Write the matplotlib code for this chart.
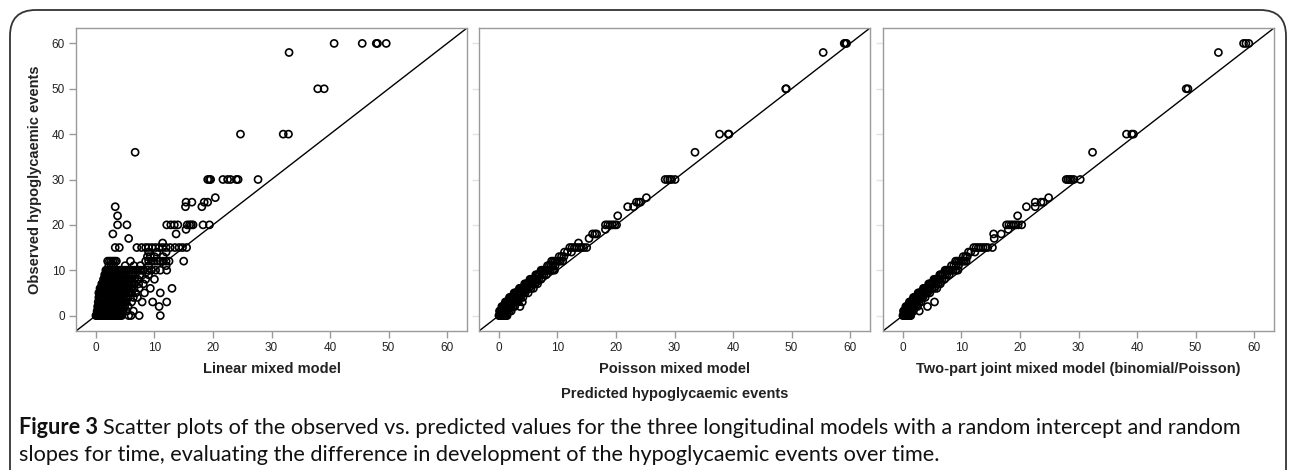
import matplotlib
matplotlib.use("Agg")
import matplotlib.pyplot as plt
from matplotlib.patches import FancyBboxPatch

linear_obs = [0, 1, 2, 3, 4, 5, 6, 7, 8, 9, 10, 11, 12, 13, 14, 15, 16, 17, 18, 19,
              20, 22, 24, 25, 26, 30, 36, 40, 50, 58, 60]
linear_pred = [
    [0.0, 0.2, 0.4, 0.6, 0.8, 1.0, 1.2, 1.4, 1.6, 1.8, 2.0, 2.2, 2.4, 2.6, 2.8, 3.0, 3.2, 3.4,
     3.6, 3.8, 4.0, 4.2, 4.4, 5.6, 6.0, 7.4, 11.0],
    [0.2, 0.4, 0.6, 0.8, 1.0, 1.2, 1.4, 1.6, 1.8, 2.0, 2.2, 2.4, 2.6, 2.8, 3.0, 3.2, 3.4, 3.6,
     3.8, 4.0, 4.2, 4.4, 4.6, 5.3, 6.4],
    [0.3, 0.5, 0.7, 0.9, 1.1, 1.3, 1.5, 1.7, 1.9, 2.1, 2.3, 2.5, 2.7, 2.9, 3.1, 3.3, 3.5, 3.7,
     3.9, 4.1, 4.3, 4.6, 4.9, 5.5, 10.8],
    [0.4, 0.6, 0.8, 1.0, 1.2, 1.4, 1.6, 1.8, 2.0, 2.2, 2.4, 2.6, 2.8, 3.0, 3.2, 3.4, 3.6, 3.8,
     4.0, 4.2, 4.4, 4.7, 5.0, 5.2, 6.1, 7.9, 9.7, 12.1],
    [0.5, 0.7, 0.9, 1.1, 1.3, 1.5, 1.7, 1.9, 2.1, 2.3, 2.5, 2.7, 2.9, 3.1, 3.3, 3.5, 3.7, 3.9,
     4.1, 4.3, 4.5, 4.8, 5.1, 5.5, 6.4, 7.1],
    [0.5, 0.7, 0.9, 1.1, 1.3, 1.5, 1.7, 1.9, 2.1, 2.3, 2.5, 2.7, 2.9, 3.1, 3.3, 3.5, 3.7, 3.9,
     4.1, 4.3, 4.5, 4.7, 4.9, 5.2, 5.5, 5.8, 6.1, 6.8, 8.3, 11.0],
    [0.7, 0.9, 1.1, 1.3, 1.5, 1.7, 1.9, 2.1, 2.3, 2.5, 2.7, 2.9, 3.1, 3.3, 3.5, 3.7, 3.9, 4.1,
     4.3, 4.5, 4.7, 4.9, 5.1, 5.4, 5.7, 6.0, 6.5, 7.4, 9.3, 13.0],
    [1.0, 1.2, 1.4, 1.6, 1.8, 2.0, 2.2, 2.4, 2.6, 2.8, 3.0, 3.2, 3.4, 3.6, 3.8, 4.0, 4.2, 4.4,
     4.6, 4.8, 5.0, 5.3, 5.6, 6.0, 6.6, 7.3, 8.1],
    [1.3, 1.5, 1.7, 1.9, 2.1, 2.3, 2.5, 2.7, 2.9, 3.1, 3.3, 3.5, 3.7, 3.9, 4.1, 4.3, 4.5, 4.7,
     5.0, 5.3, 5.6, 5.9, 6.2, 6.6, 7.1, 8.5, 10.0],
    [1.5, 1.7, 1.9, 2.1, 2.3, 2.5, 2.7, 2.9, 3.1, 3.3, 3.5, 3.7, 3.9, 4.2, 4.5, 4.8, 5.1, 5.5,
     6.0, 6.7, 7.5, 9.0],
    [1.7, 1.9, 2.1, 2.3, 2.5, 2.7, 2.9, 3.1, 3.3, 3.6, 3.9, 4.2, 4.5, 4.8, 5.1, 5.4, 5.7, 6.0,
     6.3, 6.6, 6.9, 7.2, 7.5, 7.8, 8.1, 8.8, 9.5, 10.2, 11.0, 12.1],
    [2.2, 2.6, 3.0, 5.0, 6.5, 7.6, 9.0, 12.0],
    [2.0, 2.3, 2.6, 2.9, 3.2, 3.5, 5.9, 8.5, 9.0, 9.5, 10.0, 10.5, 11.0, 11.5, 12.0, 12.5, 15.0],
    [8.8, 9.3, 10.0, 11.5],
    [9.0, 10.4, 12.0],
    [3.3, 4.0, 7.0, 7.8, 8.5, 9.0, 9.6, 10.2, 10.8, 11.4, 12.0, 12.7, 13.5, 14.2, 14.8, 15.5],
    [11.4],
    [5.6],
    [2.9, 13.7],
    [15.4],
    [3.7, 5.3, 12.1, 12.8, 13.4, 14.0, 15.6, 16.0, 16.3, 16.6, 18.3, 19.4],
    [3.7],
    [3.3, 15.3, 18.1],
    [15.4, 16.4, 18.5, 19.1],
    [20.4],
    [19.1, 19.4, 19.6, 21.7, 22.5, 23.0, 24.0, 24.3, 27.7],
    [6.7],
    [24.7, 32.0, 32.9],
    [37.9, 39.0],
    [33.0],
    [40.7, 45.5, 47.9, 48.1, 49.6],
]

poisson_obs = [0, 1, 2, 3, 4, 5, 6, 7, 8, 9, 10, 11, 12, 13, 14, 15, 16, 17, 18, 19,
               20, 22, 24, 25, 26, 30, 36, 40, 50, 58, 60]
poisson_pred = [
    [0.0, 0.15, 0.3, 0.45, 0.6, 0.75, 0.9, 1.05, 1.2, 1.4],
    [0.1, 0.25, 0.4, 0.55, 0.7, 0.85, 1.0, 1.15, 1.3, 1.5, 1.8, 2.1],
    [0.5, 0.65, 0.8, 0.95, 1.1, 1.25, 1.4, 1.55, 1.7, 1.9, 2.1, 2.4, 2.7, 3.6],
    [1.1, 1.25, 1.4, 1.55, 1.7, 1.85, 2.0, 2.15, 2.3, 2.5, 2.7, 3.0, 3.3, 4.0],
    [1.8, 1.95, 2.1, 2.25, 2.4, 2.55, 2.7, 2.85, 3.0, 3.2, 3.4, 3.7, 4.1],
    [2.6, 2.75, 2.9, 3.05, 3.2, 3.35, 3.5, 3.65, 3.8, 4.0, 4.2, 4.5, 5.0],
    [3.5, 3.65, 3.8, 3.95, 4.1, 4.25, 4.4, 4.6, 4.8, 5.1, 5.5, 5.9],
    [4.4, 4.6, 4.8, 5.0, 5.2, 5.4, 5.6, 5.9, 6.2, 6.6],
    [5.3, 5.5, 5.7, 5.9, 6.1, 6.3, 6.5, 6.8, 7.2],
    [6.3, 6.5, 6.7, 6.9, 7.1, 7.4, 7.7, 8.1],
    [7.2, 7.4, 7.6, 7.8, 8.0, 8.2, 8.5, 8.8, 9.2, 9.5],
    [8.3, 8.6, 8.9, 9.2, 9.6],
    [9.0, 9.3, 9.6, 9.9, 10.2, 10.5, 10.9],
    [10.3, 10.7, 11.1],
    [11.2, 11.7, 12.4],
    [12.1, 12.5, 12.9, 13.3, 13.7, 14.1, 14.5, 15.0],
    [13.6],
    [15.4],
    [16.0, 16.4, 16.7],
    [18.2],
    [18.2, 18.6, 19.0, 19.4, 19.8, 20.1],
    [20.3],
    [22.0, 23.0],
    [23.5, 23.9, 24.2],
    [25.2],
    [28.4, 28.8, 29.2, 29.5, 30.1],
    [33.5],
    [37.7, 39.2, 39.3],
    [49.0, 49.1],
    [55.4],
    [59.0, 59.2, 59.4],
]

twopart_obs = [0, 1, 2, 3, 4, 5, 6, 7, 8, 9, 10, 11, 12, 13, 14, 15, 17, 18, 19,
               20, 22, 24, 25, 26, 30, 36, 40, 50, 58, 60]
twopart_pred = [
    [0.0, 0.15, 0.3, 0.45, 0.6, 0.75, 0.9, 1.05, 1.2, 1.35],
    [0.1, 0.25, 0.4, 0.55, 0.7, 0.85, 1.0, 1.15, 1.3, 1.5, 1.8, 2.8],
    [0.5, 0.65, 0.8, 0.95, 1.1, 1.25, 1.4, 1.55, 1.7, 1.9, 2.2, 2.5, 4.2],
    [1.1, 1.25, 1.4, 1.55, 1.7, 1.85, 2.0, 2.15, 2.3, 2.5, 2.8, 3.1, 5.4],
    [1.8, 1.95, 2.1, 2.25, 2.4, 2.55, 2.7, 2.9, 3.1, 3.4, 3.8],
    [2.6, 2.75, 2.9, 3.05, 3.2, 3.35, 3.5, 3.7, 3.9, 4.2, 4.6],
    [3.5, 3.65, 3.8, 3.95, 4.1, 4.3, 4.5, 4.7, 5.0, 5.4, 5.8],
    [4.4, 4.6, 4.8, 5.0, 5.2, 5.4, 5.7, 6.0, 6.4],
    [5.3, 5.5, 5.7, 5.9, 6.1, 6.4, 6.7, 7.1],
    [6.3, 6.5, 6.7, 6.9, 7.2, 7.5, 7.9],
    [7.2, 7.4, 7.6, 7.8, 8.0, 8.3, 8.6, 9.0, 9.4],
    [8.3, 8.7, 9.1, 9.5],
    [9.0, 9.3, 9.6, 9.9, 10.2, 10.5, 10.8],
    [10.3, 10.7, 11.0],
    [11.2, 11.6, 12.3],
    [12.1, 12.5, 12.9, 13.3, 13.7, 14.1, 14.5, 15.3],
    [15.6],
    [15.5, 16.8],
    [18.0],
    [17.7, 18.1, 18.5, 18.9, 19.3, 19.7, 20.3],
    [19.6],
    [21.1, 22.6],
    [22.6, 23.6, 24.0],
    [24.9],
    [27.9, 28.2, 28.5, 28.8, 29.2, 30.3],
    [32.4],
    [38.2, 39.1, 39.4],
    [48.4, 48.7],
    [53.9],
    [58.2, 58.6, 59.1],
]

panel_titles = ["Linear mixed model", "Poisson mixed model",
                "Two-part joint mixed model (binomial/Poisson)"]
ticks = [0, 10, 20, 30, 40, 50, 60]

W, H = 1290, 470
fig = plt.figure(figsize=(W / 100, H / 100), dpi=100)
plt.rcParams['font.family'] = ['Liberation Sans', 'DejaVu Sans']

# outer rounded frame
frame = FancyBboxPatch((10 / W, -0.1), 1276 / W, 1.1 - 10 / H,
                       boxstyle="round,pad=0,rounding_size=0.02",
                       transform=fig.transFigure, fill=False,
                       edgecolor="#333333", linewidth=1.3, mutation_aspect=W / H)
fig.patches.append(frame)

lefts = [76, 479, 883]
panels = [(linear_obs, linear_pred), (poisson_obs, poisson_pred), (twopart_obs, twopart_pred)]
for i, (obs, pred) in enumerate(panels):
    ax = fig.add_axes([lefts[i] / W, 1 - 331 / H, 391 / W, 303 / H])
    xs, ys = [], []
    for y, row in zip(obs, pred):
        for x in row:
            xs.append(x)
            ys.append(y)
    lim = (-3.4, 63.4)
    ax.plot(lim, lim, color="black", linewidth=1.0, zorder=1)
    ax.scatter(xs, ys, s=26, facecolors="none", edgecolors="black", linewidths=1.2, zorder=2)
    ax.set_xlim(lim)
    ax.set_ylim(lim)
    ax.set_xticks(ticks)
    ax.set_yticks(ticks)
    for sp in ax.spines.values():
        sp.set_color("#9a9a9a")
        sp.set_linewidth(1.0)
    ax.tick_params(axis="x", direction="out", length=5, width=1, color="#9a9a9a",
                   labelsize=8.5, labelcolor="#222222", pad=3)
    if i == 0:
        ax.tick_params(axis="y", direction="out", length=5, width=1, color="#9a9a9a",
                       labelsize=8.5, labelcolor="#222222", pad=3)
        ax.set_ylabel("Observed hypoglycaemic events", fontsize=10.5,
                      fontweight="bold", color="#222222", labelpad=7)
    else:
        ax.tick_params(axis="y", direction="out", length=5, width=1, color="#e2e2e2",
                       labelleft=False)
    ax.set_xlabel(panel_titles[i], fontsize=10.5, fontweight="bold",
                  color="#222222", labelpad=6)

fig.text((479 + 870) / 2 / W, 1 - 394 / H, "Predicted hypoglycaemic events",
         fontsize=10.5, fontweight="bold", color="#222222", ha="center", va="center")

# caption
cap_font = ['Lato', 'DejaVu Sans']
line1 = "Scatter plots of the observed vs. predicted values for the three longitudinal models with a random intercept and random"
line2 = "slopes for time, evaluating the difference in development of the hypoglycaemic events over time."
fs = 13
renderer = fig.canvas.get_renderer()
t_bold = fig.text(19 / W, 1 - 428 / H, "Figure 3", fontsize=fs, fontweight="bold",
                  family=cap_font, color="#111111", va="center")
bb = t_bold.get_window_extent(renderer)
t1 = fig.text((bb.x1 + 4) / W, 1 - 428 / H, line1, fontsize=fs, family=cap_font,
              color="#111111", va="center")
bb1 = t1.get_window_extent(renderer)
scale = (1235 - 19) / (bb1.x1 - bb.x0)
fs = fs * scale
t_bold.set_fontsize(fs)
bb = t_bold.get_window_extent(renderer)
t1.set_fontsize(fs)
t1.set_x((bb.x1 + 4 * scale) / W)
fig.text(19 / W, 1 - 455 / H, line2, fontsize=fs, family=cap_font,
         color="#111111", va="center")

fig.savefig("out.png", dpi=100)
